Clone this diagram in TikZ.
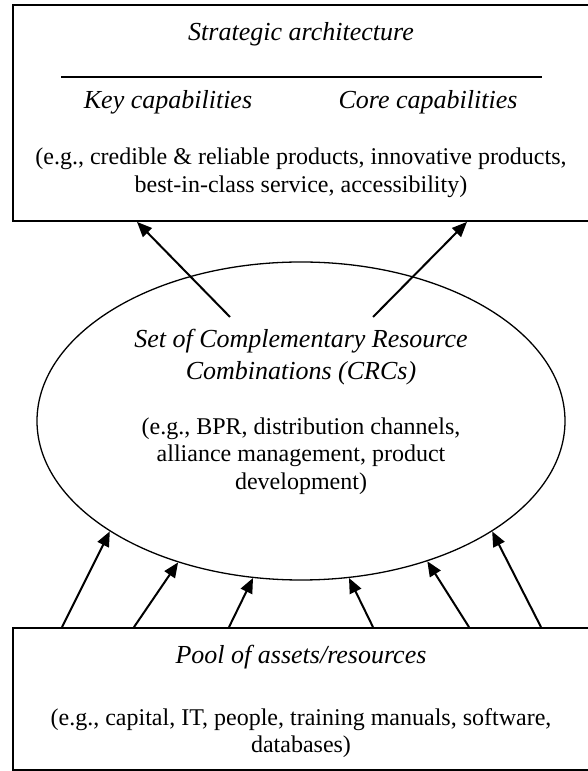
\documentclass[tikz,border=0pt]{standalone}
\usepackage{fontspec}
\setmainfont{Liberation Serif}
\usetikzlibrary{arrows.meta,shapes.geometric}

\begin{document}
\begin{tikzpicture}
[x=1pt,y=1pt,
 boxdecorate/.style={draw,rectangle,line width=1.8pt,inner sep=0pt},
 ovaldecorate/.style={draw,ellipse,line width=1.3pt,inner sep=0pt,
   minimum width=528pt,minimum height=318pt},
 headtext/.style={font=\fontsize{26}{31.5}\selectfont\itshape,align=center},
 bodytext/.style={font=\fontsize{24}{27.5}\selectfont,align=center},
 arrowdecorate/.style={line width=2pt,-{Triangle[length=15pt,width=12.5pt]}}]
\useasboundingbox (0,0) rectangle (587,771);
%% the three blocks
\node (arch) [boxdecorate,minimum width=579pt,minimum height=216pt] at (302.5,658) {};
\node (crc) [ovaldecorate] at (301,350) {};
\node (pool) [boxdecorate,minimum width=579pt,minimum height=142pt] at (302.5,72) {};
%% texts of the top block
\node (archtitle) [headtext] at (301,737) {Strategic architecture};
\draw[line width=1.5pt] (61,694) -- (542,694);
\node (keycap) [headtext] at (168,669) {Key capabilities};
\node (corecap) [headtext] at (428,669) {Core capabilities};
\node (archnote) [bodytext] at (301,598)
  {(e.g., credible \& reliable products, innovative products,\\
   best-in-class service, accessibility)};
%% texts of the ellipse
\node (crctitle) [headtext] at (301,414)
  {Set of Complementary Resource\\ Combinations (CRCs)};
\node (crcnote) [bodytext] at (301,315)
  {(e.g., BPR, distribution channels,\\ alliance management, product\\ development)};
%% texts of the bottom block
\node (pooltitle) [headtext] at (301,114) {Pool of assets/resources};
\node (poolnote) [bodytext] at (301,38)
  {(e.g., capital, IT, people, training manuals, software,\\ databases)};
%% arrows up to the top block
\foreach \xfoot/\xtip in {230/137, 373/467}
{
  \draw[arrowdecorate] (\xfoot,454) -- (\xtip,0 |- arch.south);
}
%% arrows up to the ellipse
\foreach \xfoot/\ang in {62/210, 134/229, 229/253, 373/287, 469/312, 541/330}
{
  \draw[arrowdecorate] (\xfoot,0 |- pool.north) -- (crc.\ang);
}
\end{tikzpicture}
\end{document}
